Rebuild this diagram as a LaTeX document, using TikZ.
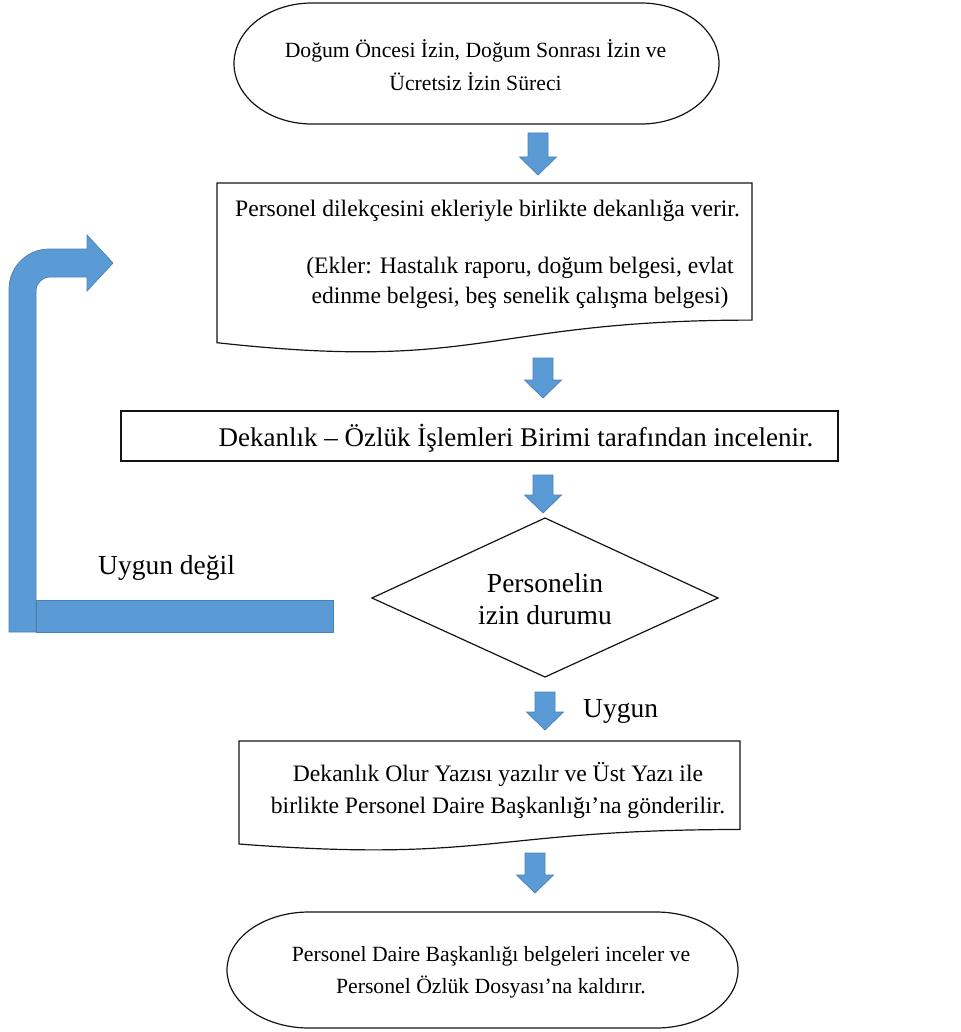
\documentclass[tikz,border=0pt]{standalone}
\usepackage{fontspec}
\setmainfont{LiberationSerif-Regular.ttf}[BoldFont=LiberationSerif-Bold.ttf]

\definecolor{flowblue}{HTML}{5B9BD5}
\definecolor{flowedge}{HTML}{4A7FB8}

\tikzset{
  outline/.style={draw=black!92, line width=1.2pt, line join=miter},
  blockfill/.style={fill=flowblue, draw=flowedge, line width=0.7pt},
  lines/.style={align=center, inner sep=0pt,
    execute at begin node=\strut, execute at end node=\strut},
  termtext/.style={lines, font=\fontsize{21.7}{31}\selectfont},
  doctext/.style={lines, font=\fontsize{23.6}{32}\selectfont},
  bigtext/.style={lines, font=\fontsize{27.5}{32}\selectfont},
}

% block arrow pointing down: centre x, top y, total length; its tip is named
\newcommand\downblock[4]{%
  \draw[blockfill] (#1-10,#2) -- (#1+10,#2) -- (#1+10,#2+#3-18)
    -- (#1+18.5,#2+#3-18) -- (#1,#2+#3) -- (#1-18.5,#2+#3-18)
    -- (#1-10,#2+#3-18) -- cycle;
  \coordinate (#4) at (#1,#2+#3);}

\begin{document}
\begin{tikzpicture}[x=1pt,y=-1pt]
\useasboundingbox (0,0) rectangle (960,1032);

% ---- outlines of the flowchart symbols ----
% start terminator
\draw[outline] (312,3) -- (641,3)
  .. controls (684.1,3) and (719,30.1) .. (719,63.5)
  .. controls (719,96.9) and (684.1,124) .. (641,124) -- (312,124)
  .. controls (268.9,124) and (234,96.9) .. (234,63.5)
  .. controls (234,30.1) and (268.9,3) .. cycle;
% document: application
\draw[outline] (217,183) -- (752,183) -- (752,320.1)
  .. controls (484.5,320.1) and (484.5,372.3) .. (217,342.7) -- cycle;
% process box
\draw[outline] (121,411) rectangle (838,461);
% decision
\draw[outline] (372,598) -- (545,518) -- (718,598) -- (545,677) -- cycle;
% document: approval letter
\draw[outline] (239,741) -- (740,741) -- (740,829.5)
  .. controls (489.5,829.5) and (489.5,863.1) .. (239,844) -- cycle;
% end terminator
\draw[outline] (309,912) -- (656,912)
  .. controls (701.3,912) and (738,938) .. (738,970)
  .. controls (738,1002) and (701.3,1028) .. (656,1028) -- (309,1028)
  .. controls (263.7,1028) and (227,1002) .. (227,970)
  .. controls (227,938) and (263.7,912) .. cycle;

% ---- texts ----
\node[termtext, font=\fontsize{21.7}{33}\selectfont] (start) at (475.5,70)
  {Doğum Öncesi İzin, Doğum Sonrası İzin ve\\Ücretsiz İzin Süreci};
\node[doctext, anchor=base] (submit) at (487.5,217)
  {Personel dilekçesini ekleriyle birlikte dekanlığa verir.};
\node[lines, font=\fontsize{23.6}{30}\selectfont] (attach) at (520,285)
  {(Ekler: Hastalık raporu, doğum belgesi, evlat\\edinme belgesi, beş senelik çalışma belgesi)};
\node[lines, font=\fontsize{27}{32}\selectfont, anchor=base] (review) at (516,446)
  {Dekanlık – Özlük İşlemleri Birimi tarafından incelenir.};
\node[bigtext] (decide) at (545,603.6) {Personelin\\izin durumu};
\node[bigtext, anchor=base west] (notok) at (98,574) {Uygun değil};
\node[bigtext, anchor=base west] (ok) at (583,717) {Uygun};
\node[doctext] (approve) at (498,792.6)
  {Dekanlık Olur Yazısı yazılır ve Üst Yazı ile\\birlikte Personel Daire Başkanlığı’na gönderilir.};
\node[termtext, font=\fontsize{21.7}{32}\selectfont] (finish) at (491,974.6)
  {Personel Daire Başkanlığı belgeleri inceler ve\\Personel Özlük Dosyası’na kaldırır.};

% ---- block arrows between the steps ----
\downblock{538}{133}{42}{d1}
\downblock{543}{358}{40}{d2}
\downblock{543}{475}{38}{d3}
\downblock{545}{692}{38}{d4}
\downblock{535}{853}{40}{d5}

% ---- return path for the "Uygun değil" branch ----
\draw[blockfill] (9,632) -- (9,289)
  .. controls (9,267) and (27,249) .. (49,249) -- (87,249) -- (87,235)
  -- (113,263) -- (87,291) -- (87,277) -- (50,277)
  .. controls (42.3,277) and (36,283.3) .. (36,291) -- (36,632) -- cycle;
\draw[blockfill] (36,600) rectangle (333,632);
\end{tikzpicture}
\end{document}
